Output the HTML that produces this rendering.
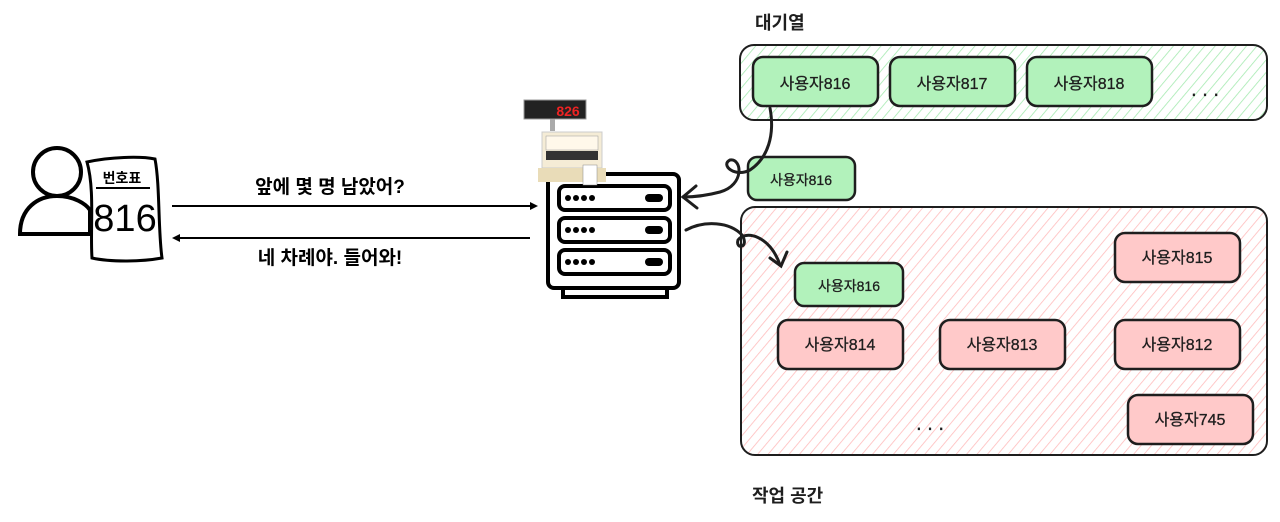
<!DOCTYPE html>
<html><head><meta charset="utf-8"><style>
html,body{margin:0;padding:0;background:#fff;width:1280px;height:522px;overflow:hidden}
text{font-family:"Liberation Sans","Noto Sans CJK KR",sans-serif}
</style></head><body>
<svg width="1280" height="522" viewBox="0 0 1280 522" xmlns="http://www.w3.org/2000/svg">
<defs>
<pattern id="hg" width="8" height="8" patternUnits="userSpaceOnUse" patternTransform="rotate(40)">
<line x1="0" y1="0" x2="0" y2="8" stroke="#a5eab0" stroke-width="1.6"/></pattern>
<pattern id="hp" width="8" height="8" patternUnits="userSpaceOnUse" patternTransform="rotate(40)">
<line x1="0" y1="0" x2="0" y2="8" stroke="#ffbcbc" stroke-width="1.6"/></pattern>
</defs>
<g font-size="18" font-weight="bold" fill="#1e1e1e">
<text x="755" y="29">대기열</text>
<text x="752" y="502">작업 공간</text>
</g>
<rect x="740" y="45" width="527" height="75" rx="14" fill="url(#hg)" stroke="#1e1e1e" stroke-width="2"/>
<rect x="741" y="207" width="526" height="248" rx="14" fill="url(#hp)" stroke="#1e1e1e" stroke-width="2"/>
<g stroke="#1e1e1e" stroke-width="2.5">
<rect x="753" y="57" width="125" height="49" rx="10" fill="#b2f2bb"/>
<rect x="890" y="57" width="125" height="49" rx="10" fill="#b2f2bb"/>
<rect x="1027" y="57" width="125" height="49" rx="10" fill="#b2f2bb"/>
<rect x="748" y="157" width="107" height="43" rx="9" fill="#b2f2bb"/>
<rect x="795" y="263" width="108" height="43" rx="9" fill="#b2f2bb"/>
<rect x="1115" y="233" width="125" height="49" rx="10" fill="#ffc9c9"/>
<rect x="778" y="320" width="125" height="49" rx="10" fill="#ffc9c9"/>
<rect x="940" y="320" width="125" height="49" rx="10" fill="#ffc9c9"/>
<rect x="1115" y="320" width="125" height="49" rx="10" fill="#ffc9c9"/>
<rect x="1128" y="395" width="125" height="49" rx="10" fill="#ffc9c9"/>
</g>
<g font-size="16" fill="#1e1e1e" text-anchor="middle" stroke="#1e1e1e" stroke-width="0.3">
<text x="815" y="89">사용자816</text>
<text x="952" y="89">사용자817</text>
<text x="1089" y="89">사용자818</text>
<text x="801" y="185" font-size="14">사용자816</text>
<text x="849" y="291" font-size="14">사용자816</text>
<text x="1177" y="263">사용자815</text>
<text x="840" y="350">사용자814</text>
<text x="1002" y="350">사용자813</text>
<text x="1177" y="350">사용자812</text>
<text x="1190" y="425">사용자745</text>
<text x="1205" y="96" font-size="20">. . .</text>
<text x="930" y="430" font-size="20">. . .</text>
</g>
<g fill="none" stroke="#1e1e1e" stroke-width="3" stroke-linecap="round">
<path d="M770 108 C775 135 768 158 750 170 C735 178 720 165 730 160 C742 158 745 185 720 192 C705 196 695 197 683 197"/>
<path d="M696 186 L683 197 L697 208"/>
<path d="M686 230 C705 220 730 222 742 235 C750 248 735 250 738 240 C745 230 770 235 780 265"/>
<path d="M770 258 L781 266 L787 252"/>
</g>
<g fill="none" stroke="#000" stroke-width="4">
<circle cx="57" cy="172" r="24"/>
<path d="M20 234 C20 208 38 196 57 196 C74 196 86 204 90 210 L90 234 Z"/>
</g>
<path d="M87 162 C110 157 140 156 155 159 C160 185 158 230 162 258 C140 262 110 262 92 258 C90 230 95 190 87 162 Z" fill="#fff" stroke="#000" stroke-width="3"/>
<text x="122" y="183" font-size="14" font-weight="bold" text-anchor="middle" fill="#000">번호표</text>
<line x1="96" y1="188" x2="150" y2="188" stroke="#000" stroke-width="2"/>
<text x="125" y="231" font-size="38" text-anchor="middle" fill="#000">816</text>
<g stroke="#000" stroke-width="2">
<line x1="172" y1="206" x2="532" y2="206"/>
<line x1="178" y1="238" x2="530" y2="238"/>
</g>
<path d="M538 206 L530 202 L530 210 Z M172 238 L180 234 L180 242 Z" fill="#000"/>
<g font-size="19" font-weight="bold" fill="#000" text-anchor="middle">
<text x="330" y="193">앞에 몇 명 남았어?</text>
<text x="330" y="264">네 차례야. 들어와!</text>
</g>
<g fill="none" stroke="#000" stroke-width="4">
<rect x="548" y="174" width="131" height="114" rx="6"/>
<rect x="559" y="186" width="111" height="24" rx="6"/>
<rect x="559" y="218" width="111" height="24" rx="6"/>
<rect x="559" y="250" width="111" height="24" rx="6"/>
<rect x="563" y="288" width="104" height="9"/>
</g>
<g fill="#000">
<circle cx="568" cy="198" r="3"/><circle cx="576" cy="198" r="3"/><circle cx="584" cy="198" r="3"/><circle cx="592" cy="198" r="3"/>
<circle cx="568" cy="230" r="3"/><circle cx="576" cy="230" r="3"/><circle cx="584" cy="230" r="3"/><circle cx="592" cy="230" r="3"/>
<circle cx="568" cy="262" r="3"/><circle cx="576" cy="262" r="3"/><circle cx="584" cy="262" r="3"/><circle cx="592" cy="262" r="3"/>
<rect x="645" y="194" width="18" height="8" rx="4"/><rect x="645" y="226" width="18" height="8" rx="4"/><rect x="645" y="258" width="18" height="8" rx="4"/>
</g>
<rect x="524" y="100" width="62" height="19" fill="#222" stroke="#999"/>
<text x="568" y="116" font-size="14" font-weight="bold" fill="#e22" text-anchor="middle">826</text>
<rect x="550" y="119" width="5" height="12" fill="#aaa"/>
<rect x="542" y="132" width="60" height="36" fill="#f5ecd6" stroke="#ccc"/>
<rect x="546" y="136" width="52" height="14" fill="#fff8ea" stroke="#999" stroke-width="0.5"/>
<rect x="546" y="151" width="52" height="9" fill="#333"/>
<rect x="538" y="168" width="68" height="14" fill="#e9dcb8"/>
<rect x="583" y="165" width="14" height="20" fill="#fff" stroke="#888" stroke-width="0.5"/>
</svg>
</body></html>
